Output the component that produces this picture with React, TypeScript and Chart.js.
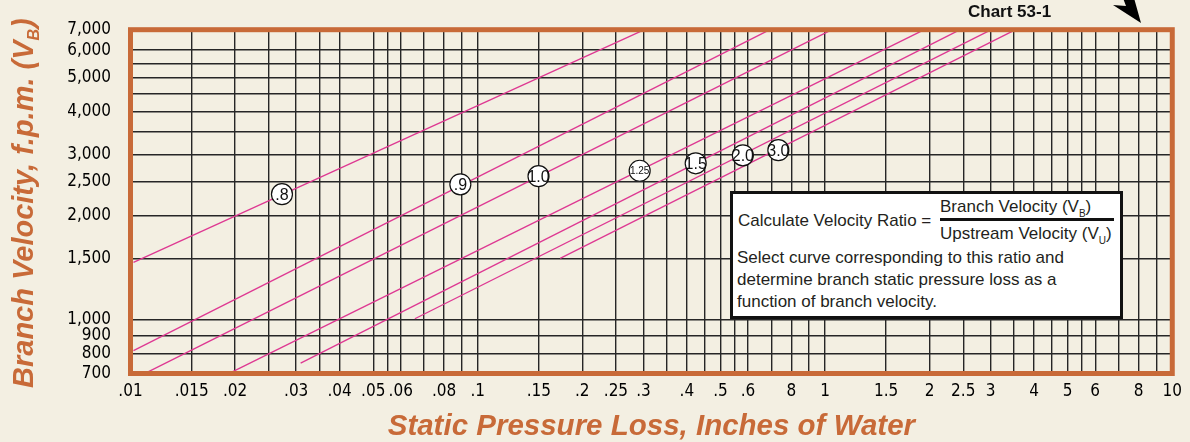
import React, { useEffect, useRef } from 'react';
import { Chart, registerables } from 'chart.js';

Chart.register(...registerables);

// ---------- data ----------
const xGridValues = [
  0.01, 0.015, 0.02, 0.025, 0.03, 0.035, 0.04, 0.05, 0.055, 0.06, 0.07, 0.08, 0.09,
  0.1, 0.15, 0.2, 0.25, 0.3, 0.35, 0.4, 0.45, 0.5, 0.55, 0.6, 0.7, 0.8, 0.9,
  1, 1.5, 2, 2.5, 3, 3.5, 4, 4.5, 5, 5.5, 6, 7, 8, 9, 10,
];
const xTickLabels = [
  '.01', '.015', '.02', '', '.03', '', '.04', '.05', '', '.06', '', '.08', '',
  '.1', '.15', '.2', '.25', '.3', '', '.4', '', '.5', '', '.6', '', '8', '',
  '1', '1.5', '2', '2.5', '3', '', '4', '', '5', '', '6', '', '8', '', '10',
];
const yGridValues = [700, 800, 900, 1000, 1500, 2000, 2500, 3000, 3500, 4000, 4500, 5000, 5500, 6000, 6875];
const yTickLabels = ['700', '800', '900', '1,000', '1,500', '2,000', '2,500', '3,000', '', '4,000', '', '5,000', '', '6,000', '7,000'];

const curveRatioLabels = ['.8', '.9', '1.0', '1.25', '1.5', '2.0', '3.0'];
const curveStartLoss = [0.0102, 0.0102, 0.01105, 0.0197, 0.0309, 0.0659, 0.1727];
const curveStartVelocity = [1464, 815, 702, 709, 750, 1007, 1505];
const curveEndLoss = [0.301, 0.692, 1.044, 1.926, 2.443, 3.005, 3.528];
const curveEndVelocity = [6870, 6870, 6870, 6870, 6870, 6870, 6870];

const markerLoss = [0.0273, 0.0891, 0.1496, 0.2926, 0.4242, 0.58, 0.7339];
const markerVelocity = [2304, 2461, 2597, 2693, 2830, 2983, 3087];

const xAxisTitle = 'Static Pressure Loss, Inches of Water';
const yAxisTitleMain = 'Branch Velocity, f.p.m. (V';
const yAxisTitleSub = 'B';
const yAxisTitleEnd = ')';

// ---------- style ----------
const ORANGE = '#c86a38';
const CREAM = '#f3efe2';
const PINK = '#de3892';
const GRID = '#262626';
const TICK_FONT = '"DejaVu Sans Condensed", "DejaVu Sans", sans-serif';
const TITLE_FONT = '"Liberation Sans", Arial, sans-serif';

const decorPlugin = {
  id: 'decor',
  afterDatasetsDraw(chart: any) {
    const { ctx, chartArea: a, scales } = chart;
    // marker labels
    ctx.save();
    ctx.fillStyle = '#111';
    ctx.textAlign = 'center';
    ctx.textBaseline = 'middle';
    for (let i = 0; i < curveRatioLabels.length; i++) {
      const px = scales.x.getPixelForValue(markerLoss[i]);
      const py = scales.y.getPixelForValue(markerVelocity[i]);
      const t = curveRatioLabels[i];
      ctx.font = (t.length > 3 ? '10px ' : '16px ') + TITLE_FONT;
      ctx.fillText(t, px, py + 1);
    }
    ctx.restore();
    // orange frame
    ctx.save();
    ctx.strokeStyle = ORANGE;
    ctx.lineWidth = 5;
    ctx.strokeRect(a.left, a.top, a.right - a.left, a.bottom - a.top);
    ctx.restore();
  },
  afterDraw(chart: any) {
    const { ctx, chartArea: a } = chart;
    ctx.save();
    ctx.fillStyle = ORANGE;
    ctx.font = 'italic bold 29.5px ' + TITLE_FONT;
    ctx.textAlign = 'center';
    ctx.textBaseline = 'alphabetic';
    ctx.fillText(xAxisTitle, (a.left + a.right) / 2, 435);

    // y title, rotated, with subscript
    ctx.translate(33, (a.top + a.bottom) / 2 + 2);
    ctx.rotate(-Math.PI / 2);
    ctx.textAlign = 'left';
    const mainFont = 'italic bold 29px ' + TITLE_FONT;
    const subFont = 'italic bold 16px ' + TITLE_FONT;
    ctx.font = mainFont;
    const w1 = ctx.measureText(yAxisTitleMain).width;
    const w3 = ctx.measureText(yAxisTitleEnd).width;
    ctx.font = subFont;
    const w2 = ctx.measureText(yAxisTitleSub).width;
    const start = -(w1 + w2 + w3) / 2;
    ctx.font = mainFont;
    ctx.fillText(yAxisTitleMain, start, 0);
    ctx.font = subFont;
    ctx.fillText(yAxisTitleSub, start + w1, 6);
    ctx.font = mainFont;
    ctx.fillText(yAxisTitleEnd, start + w1 + w2 + 1, 0);
    ctx.restore();

    // arrow head at top right
    ctx.save();
    ctx.fillStyle = '#000';
    ctx.beginPath();
    ctx.moveTo(1141, 23);
    ctx.lineTo(1113, 5);
    ctx.lineTo(1126, 6);
    ctx.lineTo(1123, -2);
    ctx.lineTo(1134, -2);
    ctx.closePath();
    ctx.fill();
    ctx.restore();
  },
};

export default function App() {
  const ref = useRef<HTMLCanvasElement | null>(null);

  useEffect(() => {
    if (!ref.current) return;
    const curveSets = curveRatioLabels.map((lab, i) => ({
      label: lab,
      data: [
        { x: curveStartLoss[i], y: curveStartVelocity[i] },
        { x: curveEndLoss[i], y: curveEndVelocity[i] },
      ],
      showLine: true,
      borderColor: PINK,
      borderWidth: 1.3,
      pointRadius: 0,
      order: 1,
    }));
    const markerSet = {
      label: 'ratio markers',
      data: markerLoss.map((x, i) => ({ x, y: markerVelocity[i] })),
      showLine: false,
      pointRadius: 10.5,
      pointBackgroundColor: '#ffffff',
      pointBorderColor: '#111111',
      pointBorderWidth: 1.2,
      order: 0,
    };

    const chart = new Chart(ref.current, {
      type: 'scatter',
      data: { datasets: [markerSet as any, ...curveSets] },
      options: {
        responsive: false,
        animation: false,
        devicePixelRatio: 1,
        layout: { padding: { top: 27, right: 14, left: 0, bottom: 0 } },
        plugins: { legend: { display: false }, tooltip: { enabled: false } },
        scales: {
          x: {
            type: 'logarithmic',
            position: 'bottom',
            min: 0.01,
            max: 10,
            afterBuildTicks: (s: any) => {
              s.ticks = xGridValues.map((v) => ({ value: v }));
            },
            afterFit: (s: any) => {
              s.height = 68.5;
            },
            grid: { color: GRID, lineWidth: 1.4, drawTicks: false },
            border: { display: false },
            ticks: {
              autoSkip: false,
              maxRotation: 0,
              minRotation: 0,
              padding: 8,
              color: '#000',
              font: { family: TICK_FONT, size: 17 },
              callback: (_v: any, i: number) => xTickLabels[i],
            },
          },
          y: {
            type: 'logarithmic',
            position: 'left',
            min: 700,
            max: 6875,
            afterBuildTicks: (s: any) => {
              s.ticks = yGridValues.map((v) => ({ value: v }));
            },
            afterFit: (s: any) => {
              s.width = 130.5;
            },
            grid: { color: GRID, lineWidth: 1.4, drawTicks: false },
            border: { display: false },
            ticks: {
              autoSkip: false,
              padding: 19.5,
              color: '#000',
              font: { family: TICK_FONT, size: 17 },
              callback: (_v: any, i: number) => yTickLabels[i],
            },
          },
        },
      } as any,
      plugins: [decorPlugin],
    });
    return () => chart.destroy();
  }, []);

  const boxText = '#231f20';
  const f17 = '17px "Liberation Sans", Arial, sans-serif';
  return (
    <div
      style={{
        position: 'fixed',
        left: 0,
        top: 0,
        width: 1190,
        height: 442,
        background: CREAM,
        overflow: 'hidden',
      }}
    >
      <canvas
        ref={ref}
        width={1190}
        height={442}
        style={{ position: 'absolute', left: 0, top: 0, width: 1190, height: 442 }}
      />
      <div
        style={{
          position: 'absolute',
          left: 968,
          top: 3,
          font: 'bold 17px "Liberation Sans", Arial, sans-serif',
          lineHeight: '17px',
          color: '#111',
          whiteSpace: 'nowrap',
        }}
      >
        Chart 53-1
      </div>
      <div
        style={{
          position: 'absolute',
          left: 730,
          top: 191,
          width: 393,
          height: 128,
          boxSizing: 'border-box',
          border: '3px solid #111',
          background: '#ffffff',
          color: boxText,
          font: f17,
        }}
      >
        <div style={{ position: 'absolute', left: 5, top: 17.6, lineHeight: '17px', whiteSpace: 'nowrap' }}>
          Calculate Velocity Ratio =
        </div>
        <div style={{ position: 'absolute', left: 207, top: 3.9, lineHeight: '17px', whiteSpace: 'nowrap' }}>
          Branch Velocity (V
          <span style={{ fontSize: 10, position: 'relative', top: 5 }}>B</span>)
        </div>
        <div style={{ position: 'absolute', left: 207, top: 24.3, width: 174, height: 2.4, background: '#111' }} />
        <div style={{ position: 'absolute', left: 207, top: 30.6, lineHeight: '17px', whiteSpace: 'nowrap' }}>
          Upstream Velocity (V
          <span style={{ fontSize: 10, position: 'relative', top: 5 }}>U</span>)
        </div>
        <div style={{ position: 'absolute', left: 4, top: 53.3, lineHeight: '21.7px', whiteSpace: 'nowrap' }}>
          Select curve corresponding to this ratio and
          <br />
          determine branch static pressure loss as a
          <br />
          function of branch velocity.
        </div>
      </div>
    </div>
  );
}
